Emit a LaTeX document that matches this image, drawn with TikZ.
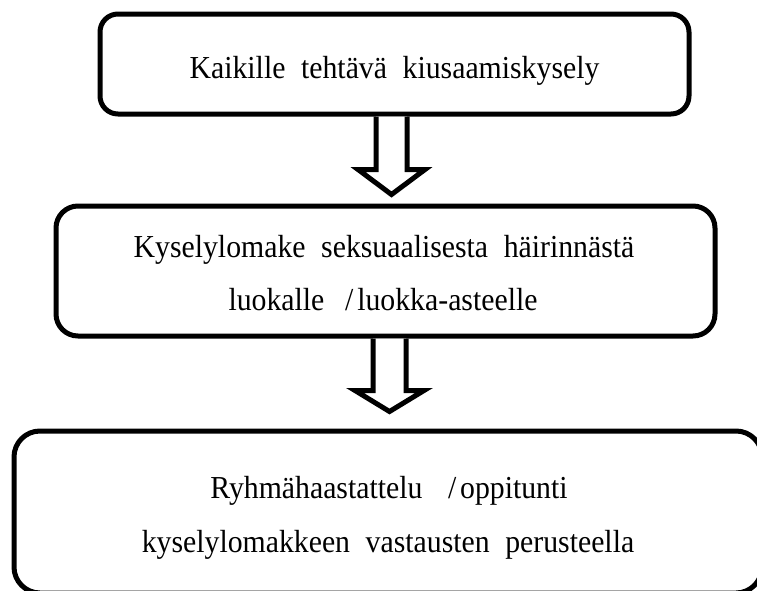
\documentclass[tikz,border=0pt]{standalone}
\usepackage{fontspec}
\setmainfont{Liberation Serif}[WordSpace=2.1, FakeStretch=0.93]
\usetikzlibrary{calc}
\tikzset{
  flowbox/.style={draw=black, line width=5pt, rectangle, rounded corners=#1, inner sep=0pt},
  flowtext/.style={anchor=base, inner sep=0pt, font=\fontsize{32}{38}\selectfont},
  blockarrow/.style={draw=black, line width=5pt, line join=miter, miter limit=10, fill=white}
}
\begin{document}
\begin{tikzpicture}[x=1pt,y=-1pt]
\useasboundingbox[fill=white] (0,0) rectangle (757,590);
% boxes
\node[flowbox=18pt, minimum width=589pt, minimum height=100pt] (b1) at (394.5,64) {};
\node[flowbox=22pt, minimum width=659pt, minimum height=130pt] (b2) at (385.5,271) {};
\node[flowbox=26pt, minimum width=748pt, minimum height=162pt] (b3) at (388,512) {};
% texts
\node[flowtext] (t1) at (394.5,78) {Kaikille tehtävä kiusaamiskysely};
\node[flowtext] (t2a) at (384,257) {Kyselylomake seksuaalisesta häirinnästä};
\node[flowtext] (t2b) at (383,310) {luokalle\hspace{0.65em}/\hspace{0.12em}luokka-asteelle};
\node[flowtext] (t3a) at (389,498) {Ryhmähaastattelu\hspace{0.8em}/\hspace{0.12em}oppitunti};
\node[flowtext] (t3b) at (388,552) {kyselylomakkeen vastausten perusteella};
% arrow 1
\draw[blockarrow]
  ($(b1.south)+(-18.5,0)$) -- ($(b1.south)+(-18.5,53)$) -- ($(b1.south)+(-36.5,53)$)
  -- ($(b2.north)+(6,-9)$)
  -- ($(b1.south)+(30.5,53)$) -- ($(b1.south)+(12.5,53)$) -- ($(b1.south)+(12.5,0)$);
% arrow 2
\draw[blockarrow]
  ($(b2.south)+(-12.5,0)$) -- ($(b2.south)+(-12.5,52)$) -- ($(b2.south)+(-30.5,52)$)
  -- ($(b3.north)+(1.5,-17)$)
  -- ($(b2.south)+(38.5,52)$) -- ($(b2.south)+(20.5,52)$) -- ($(b2.south)+(20.5,0)$);
\end{tikzpicture}
\end{document}
